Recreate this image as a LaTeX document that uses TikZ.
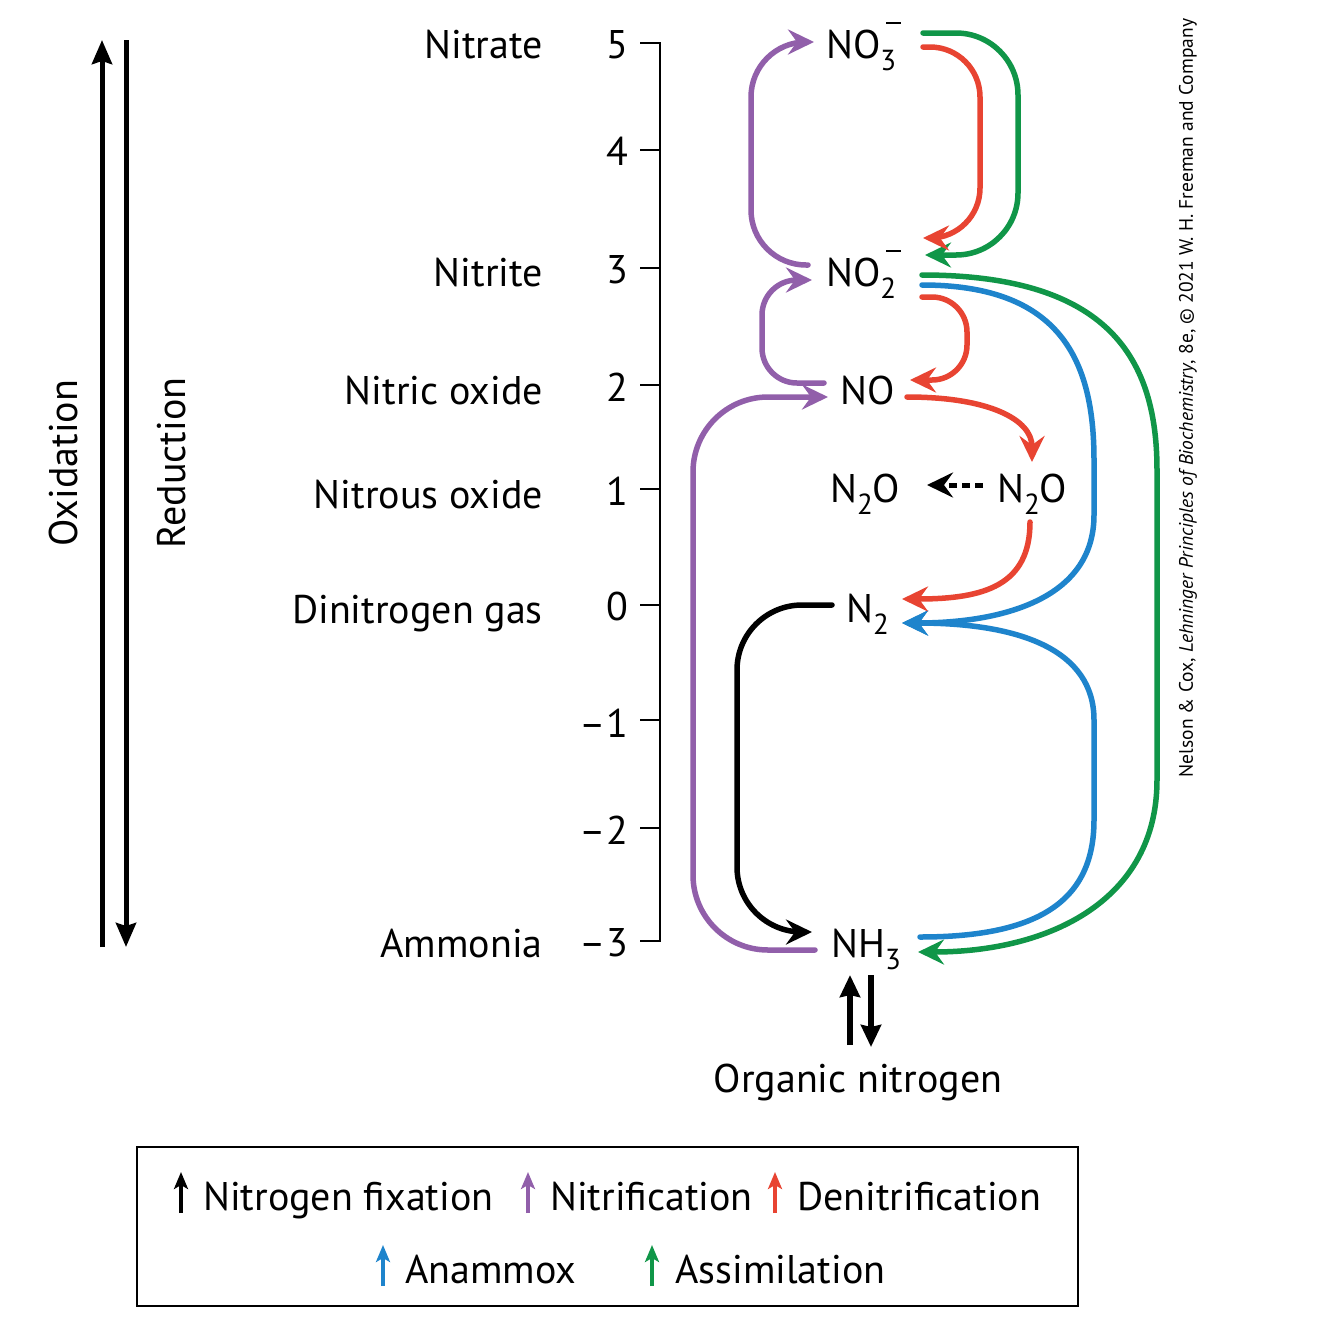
\documentclass[tikz,border=0pt]{standalone}
\usepackage{fontspec}
\setmainfont{PT Sans}
\usetikzlibrary{arrows.meta,calc}
\definecolor{cpur}{RGB}{145,95,170}
\definecolor{cred}{RGB}{232,68,50}
\definecolor{cgrn}{RGB}{16,150,72}
\definecolor{cblu}{RGB}{30,132,204}
\newcommand\bigfont{\fontsize{40}{48}\selectfont}
\newcommand\sbs[1]{\raisebox{-12pt}{\fontsize{29}{30}\selectfont #1}}
\newcommand\sbsp[1]{\makebox[0pt][l]{\raisebox{-12pt}{\fontsize{29}{30}\selectfont #1}}\raisebox{34pt}{\kern6pt\rule{15pt}{2.2pt}}}
\begin{document}
\begin{tikzpicture}[x=1pt,y=-1pt,
  every node/.style={font=\bigfont, inner sep=0pt},
  tipA/.style={-{Stealth[length=26pt,width=25pt,inset=9pt]}},
  conn/.style={line width=5.5pt, line cap=round, tipA},
  bigarr/.style={line width=5pt, -{Stealth[length=24pt,width=20pt,inset=3pt]}},
  legarr/.style={line width=3.2pt, -{Stealth[length=17pt,width=14pt,inset=4pt]}},
  lab/.style={anchor=base east},
  spec/.style={anchor=base west}]
\fill[white] (0,0) rectangle (1334,1334);
\useasboundingbox (0,0) rectangle (1334,1334);

% oxidation / reduction
\draw[bigarr] (102,947) -- (102,40);
\draw[bigarr] (126,40) -- (126,947);
\node[rotate=90] (ox) at (63,463) {Oxidation};
\node[rotate=90] (red) at (172,463) {Reduction};

% axis
\draw[line width=2.5pt] (640,43) -- (660,43) -- (660,941) -- (640,941);
\foreach \y in {150,268,385,489,605,720,828} \draw[line width=2.5pt] (640,\y) -- (660,\y);
\foreach \v/\y in {5/58,4/165,3/283,2/401,1/505,0/620,--1/737,--2/844,--3/956}
  \node[lab] at (628,\y) {\v};

% labels
\node[lab] (l1) at (543,58) {Nitrate};
\node[lab] (l2) at (543,286) {Nitrite};
\node[lab] (l3) at (543,404) {Nitric oxide};
\node[lab] (l4) at (543,508) {Nitrous oxide};
\node[lab] (l5) at (543,623) {Dinitrogen gas};
\node[lab] (l6) at (543,957) {Ammonia};

% species
\node[spec] (no3) at (826,58) {NO\sbsp{3}};
\node[spec] (no2) at (826,286) {NO\sbsp{2}};
\node[spec] (no) at (840,404) {NO};
\node[spec] (n2oL) at (830,502) {N\sbs{2}O};
\node[spec] (n2oR) at (997,502) {N\sbs{2}O};
\node[spec] (n2) at (846,622) {N\sbs{2}};
\node[spec] (nh3) at (831,957) {NH\sbs{3}};
\node[anchor=base] (org) at (858,1092) {Organic nitrogen};

% connector end points
\coordinate (p1s) at ($(no2.base west)+(-18,-21)$);
\coordinate (p1e) at ($(no3.base west)+(-12,-16)$);
\coordinate (p2s) at ($(no.base west)+(-16,-21)$);
\coordinate (p2e) at ($(no2.base west)+(-14,-6)$);
\coordinate (p3s) at ($(nh3.base west)+(-16,-7)$);
\coordinate (p3e) at ($(no.base west)+(-12,-7)$);
\coordinate (ks) at ($(n2.base west)+(-14,-17)$);
\coordinate (ke) at ($(nh3.base west)+(-19,-25)$);
\coordinate (g1s) at ($(no3.base west)+(97,-25)$);
\coordinate (g1e) at ($(no2.base west)+(99,-31)$);
\coordinate (r1s) at ($(no3.base west)+(97,-11)$);
\coordinate (r1e) at ($(no2.base west)+(97,-48)$);
\coordinate (r2s) at ($(no2.base west)+(96,11)$);
\coordinate (r2e) at ($(no.base west)+(70,-24)$);

% nitrification (purple)
\draw[conn,cpur,rounded corners=55pt] (p1s) -- (p1s -| 751,0) -- (p1e -| 751,0) -- (p1e);
\draw[conn,cpur,rounded corners=35pt] (p2s) -- (p2s -| 762,0) -- (p2e -| 762,0) -- (p2e);
\draw[conn,cpur,rounded corners=75pt] (p3s) -- (p3s -| 693,0) -- (p3e -| 693,0) -- (p3e);

% fixation (black)
\draw[conn,black,rounded corners=65pt] (ks) -- (ks -| 737,0) -- (ke -| 737,0) -- (ke);

% assimilation (green)
\draw[conn,cgrn,rounded corners=62pt] (g1s) -- (g1s -| 1018,0) -- (g1e -| 1018,0) -- (g1e);
\draw[conn,cgrn] ($(no2.base west)+(96,-11)$) .. controls (1110,275) and (1157,360) .. (1157,470) -- (1157,780) .. controls (1157,900) and (1050,952) .. ($(nh3.base west)+(87,-5)$);

% anammox (blue)
\draw[conn,cblu] ($(no2.base west)+(96,-1)$) .. controls (1060,285) and (1094,360) .. (1094,460) -- (1094,515) .. controls (1094,600) and (1000,623) .. ($(n2.base west)+(56,1)$);
\draw[conn,cblu] ($(nh3.base west)+(89,-20)$) .. controls (1040,937) and (1094,900) .. (1094,820) -- (1094,720) .. controls (1094,650) and (1020,623) .. ($(n2.base west)+(56,1)$);

% denitrification (red)
\draw[conn,cred,rounded corners=50pt] (r1s) -- (r1s -| 980,0) -- (r1e -| 980,0) -- (r1e);
\draw[conn,cred,rounded corners=35pt] (r2s) -- (r2s -| 967,0) -- (r2e -| 967,0) -- (r2e);
\draw[conn,cred] ($(no.base west)+(67,-7)$) .. controls (990,397) and (1032,420) .. ($(n2oR.base west)+(35,-40)$);
\draw[conn,cred] ($(n2oR.base west)+(33,20)$) .. controls (1030,585) and (985,599) .. ($(n2.base west)+(56,-23)$);

% dashed
\draw[line width=5pt,dash pattern=on 8pt off 5pt,tipA] ($(n2oR.base west)+(-14,-17)$) -- ($(n2oL.base west)+(97,-17)$);

% ammonia <-> organic nitrogen
\draw[line width=6pt,-{Stealth[length=22pt,width=20pt,inset=2pt]}] ($(org.base)+(-8,-47)$) -- ($(nh3.base west)+(19,18)$);
\draw[line width=6pt,-{Stealth[length=22pt,width=20pt,inset=2pt]}] ($(nh3.base west)+(40,18)$) -- ($(org.base)+(13,-45)$);

% legend
\draw[line width=2.5pt] (137,1147) rectangle (1078,1306);
\draw[legarr,black] (181,1213) -- (181,1172);
\node[spec] (lg1) at (203,1210) {Nitrogen fixation};
\draw[legarr,cpur] (528,1213) -- (528,1172);
\node[spec] (lg2) at (550,1210) {Nitrification};
\draw[legarr,cred] (775,1213) -- (775,1172);
\node[spec] (lg3) at (797,1210) {Denitrification};
\draw[legarr,cblu] (383,1286) -- (383,1245);
\node[spec] (lg4) at (405,1283) {Anammox};
\draw[legarr,cgrn] (652,1286) -- (652,1245);
\node[spec] (lg5) at (675,1283) {Assimilation};

% credit
\node[rotate=90,font=\fontsize{19.5}{22}\selectfont] (credit) at (1188,398) {Nelson \& Cox, \textit{Lehninger Principles of Biochemistry}, 8e, © 2021 W. H. Freeman and Company};
\end{tikzpicture}
\end{document}
